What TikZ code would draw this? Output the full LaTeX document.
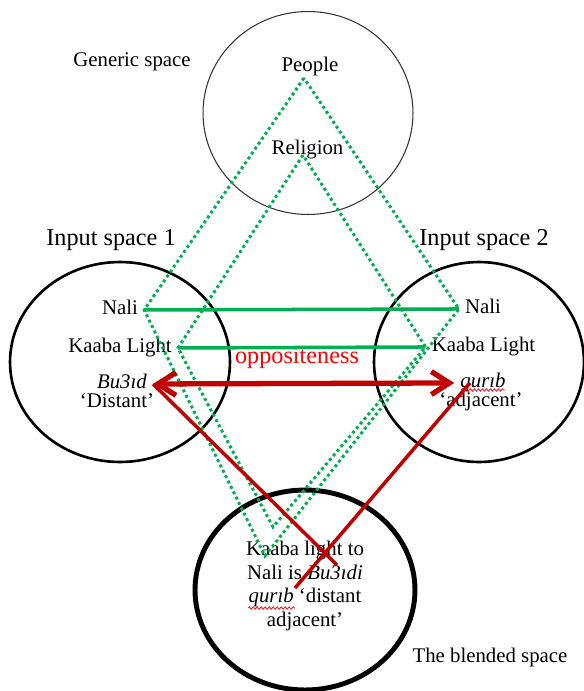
\documentclass[tikz,border=0pt]{standalone}
\usepackage{fontspec}
\setmainfont{Liberation Serif}
\usetikzlibrary{positioning,arrows.meta,calc,shapes.geometric,decorations.pathmorphing}
\definecolor{LinkGreen}{RGB}{0,176,80}
\definecolor{ClashRed}{RGB}{192,0,0}
\definecolor{LabelRed}{RGB}{255,0,0}

\begin{document}
\begin{tikzpicture}[x=0.02cm,y=-0.02cm, every node/.style={font=\fontsize{11.85}{13.6}\selectfont}]
\tikzset{
  spacering/.style={draw, ellipse, inner sep=0pt, outer sep=0pt},
  heading/.style={font=\fontsize{13.8}{16}\selectfont, anchor=base},
  term/.style={anchor=base},
  linkline/.style={LinkGreen, line width=2pt},
  frameline/.style={LinkGreen, line width=1.7pt, dash pattern=on 1.7pt off 1.7pt},
  clashline/.style={ClashRed, line width=2pt},
  clasharrow/.style={{Straight Barb[length=3.6mm, width=4.6mm]}-{Straight Barb[length=3.6mm, width=4.6mm]}, ClashRed, line width=3pt},
  squiggle/.style={LabelRed, line width=0.4pt, decorate, decoration={snake, segment length=0.8mm, amplitude=0.25mm}}
}
  \useasboundingbox (0,0) rectangle (583,691);

  \node[spacering, line width=0.6pt, draw=black!80, minimum width=4.2cm, minimum height=4.06cm] (generic) at (308,113) {};
  \node[spacering, line width=1.5pt, minimum width=4.4cm, minimum height=4cm] (input1) at (120,362) {};
  \node[spacering, line width=1.5pt, minimum width=4.2cm, minimum height=4cm] (input2) at (479,362) {};
  \node[spacering, line width=2.8pt, minimum width=4.4cm, minimum height=4cm] (blended) at (305,590) {};

  \node[term] (genericlabel) at (132,66) {Generic space};
  \node[term] (people) at (310,71) {People};
  \node[term] (religion) at (307.5,154) {Religion};
  \node[heading] (input1label) at (111,245) {Input space 1};
  \node[heading] (input2label) at (484,245) {Input space 2};

  \node[term] (nali1) at (120,314) {Nali};
  \node[term] (kaaba1) at (120,352) {Kaaba Light};
  \node[term] (bu3id) at (122,388) {\textit{Bu3ıd}};
  \node[term] (distant) at (117,407) {‘Distant’};

  \node[term] (nali2) at (483,313) {Nali};
  \node[term] (kaaba2) at (483.5,351) {Kaaba Light};
  \node[term] (qurib) at (483,387) {\textit{qurıb}};
  \node[term] (adjacent) at (481,406.5) {‘adjacent’};

  \node[heading, text=LabelRed] (oppositeness) at (297,363) {oppositeness};
  \node[align=center] (blend) at (305,586)
    {Kaaba light to\\Nali is \textit{Bu3ıdi}\\\textit{qurıb} ‘distant\\adjacent’};
  \node[term] (blendlabel) at (490,662) {The blended space};

  \coordinate (peopleTip) at (304,78);
  \coordinate (peopleLow) at (265,556);
  \coordinate (religionTip) at (303,155);
  \coordinate (religionLow) at (273,527);
  \coordinate (lightEnd) at (337,565);
  \coordinate (quribEnd) at (295,588);

  \draw[frameline] (peopleTip) -- (nali1.mid east) -- (peopleLow) -- (nali2.mid west) -- cycle;
  \draw[frameline] (religionTip) -- (kaaba1.mid east) -- (religionLow) -- (kaaba2.mid west) -- cycle;

  \draw[linkline] (nali1.mid east) -- (nali2.mid west);
  \draw[linkline] (kaaba1.mid east) -- (kaaba2.mid west);

  \draw[clasharrow] (bu3id.mid east) -- (qurib.mid west);
  \draw[clashline] (bu3id.mid east) -- (lightEnd);
  \draw[clashline] ([xshift=-0.26cm]qurib.mid) -- (quribEnd);

  \draw[squiggle] ($(qurib.base west)+(7,3)$) -- ($(qurib.base east)+(-7,3)$);
  \draw[squiggle] ($(blend.center)+(-57,22)$) -- ($(blend.center)+(-10,22)$);
\end{tikzpicture}
\end{document}
